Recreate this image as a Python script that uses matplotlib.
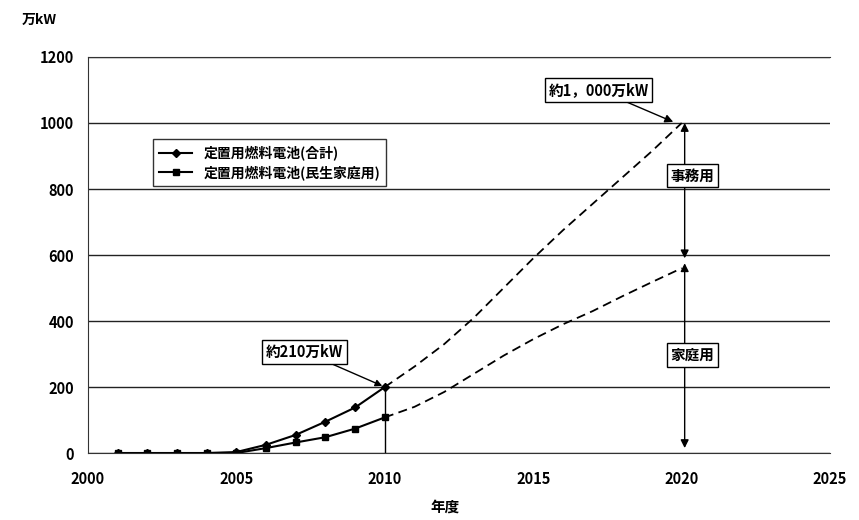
import matplotlib
matplotlib.use("Agg")
import matplotlib.pyplot as plt

plt.rcParams['font.family'] = ['Noto Sans CJK JP', 'DejaVu Sans']

years_actual = [2001, 2002, 2003, 2004, 2005, 2006, 2007, 2008, 2009, 2010]
total_actual = [0, 0, 0, 0, 3, 25, 55, 95, 138, 200]
house_actual = [0, 0, 0, 0, 0, 15, 32, 48, 74, 108]

years_proj = [2010, 2011, 2012, 2013, 2014, 2015, 2016, 2017, 2018, 2019, 2020]
total_proj = [200, 262, 330, 410, 500, 590, 675, 755, 835, 915, 1000]
house_proj = [108, 140, 185, 240, 295, 345, 390, 430, 475, 518, 560]

legend_labels = ['定置用燃料電池(合計)', '定置用燃料電池(民生家庭用)']
yticks = [0, 200, 400, 600, 800, 1000, 1200]
xticks = [2000, 2005, 2010, 2015, 2020, 2025]

fig = plt.figure(figsize=(8.59, 5.2), dpi=100)
ax = fig.add_axes([0.1024, 0.1288, 0.864, 0.7616])

ax.set_xlim(2000, 2025)
ax.set_ylim(0, 1200)
ax.set_yticks(yticks)
ax.set_xticks(xticks)
ax.yaxis.grid(True, color='#222222', linewidth=1.0)
ax.set_axisbelow(True)
ax.spines['right'].set_visible(False)
for s in ['top', 'left', 'bottom']:
    ax.spines[s].set_color('#333333')
ax.tick_params(axis='y', length=0, pad=10, labelsize=10.5)
ax.tick_params(axis='x', length=0, pad=13, labelsize=10.5)
for lbl in ax.get_xticklabels() + ax.get_yticklabels():
    lbl.set_fontweight('bold')

l1, = ax.plot(years_actual, total_actual, color='black', lw=1.5, marker='D', ms=4,
              label=legend_labels[0])
l2, = ax.plot(years_actual, house_actual, color='black', lw=1.5, marker='s', ms=5,
              label=legend_labels[1])
ax.plot(years_proj, total_proj, color='black', lw=1.3, ls=(0, (5, 3)))
ax.plot(years_proj, house_proj, color='black', lw=1.3, ls=(0, (5, 3)))

leg = ax.legend(handles=[l1, l2], loc='upper left', bbox_to_anchor=(0.078, 0.81),
                frameon=True, fancybox=False, edgecolor='black', fontsize=10,
                handlelength=2.4, borderpad=0.45, labelspacing=0.35)
leg.get_frame().set_linewidth(1.0)
for t in leg.get_texts():
    t.set_fontweight('bold')

# vertical line at 2010
ax.plot([2010, 2010], [0, total_actual[-1]], color='black', lw=1.0)

box = dict(boxstyle='square,pad=0.25', fc='white', ec='black', lw=1.0)
ax.annotate('約210万kW', xy=(2010, total_actual[-1]), xytext=(2007.3, 306),
            ha='center', va='center', fontsize=10.5, fontweight='bold', bbox=box,
            arrowprops=dict(arrowstyle='-|>', color='black', lw=1.0,
                            shrinkA=0, shrinkB=2, mutation_scale=10))
ax.annotate('約1，000万kW', xy=(2019.8, 1000), xytext=(2017.2, 1100),
            ha='center', va='center', fontsize=10.5, fontweight='bold', bbox=box,
            arrowprops=dict(arrowstyle='-|>', color='black', lw=1.0,
                            shrinkA=0, shrinkB=2, mutation_scale=12))

# double arrows at 2020
ax.annotate('', xy=(2020.1, 1000), xytext=(2020.1, 590),
            arrowprops=dict(arrowstyle='<|-|>', color='black', lw=1.0,
                            shrinkA=0, shrinkB=0, mutation_scale=12))
ax.annotate('', xy=(2020.1, 575), xytext=(2020.1, 15),
            arrowprops=dict(arrowstyle='<|-|>', color='black', lw=1.0,
                            shrinkA=0, shrinkB=0, mutation_scale=12))
ax.text(2020.35, 840, '事務用', ha='center', va='center', fontsize=10.5,
        fontweight='bold', bbox=box)
ax.text(2020.35, 297, '家庭用', ha='center', va='center', fontsize=10.5,
        fontweight='bold', bbox=box)

fig.text(0.025, 0.962, '万kW', ha='left', va='center', fontsize=10, fontweight='bold')
fig.text(0.518, 0.025, '年度', ha='center', va='center', fontsize=10.5, fontweight='bold')

fig.savefig('out.png', dpi=100)
